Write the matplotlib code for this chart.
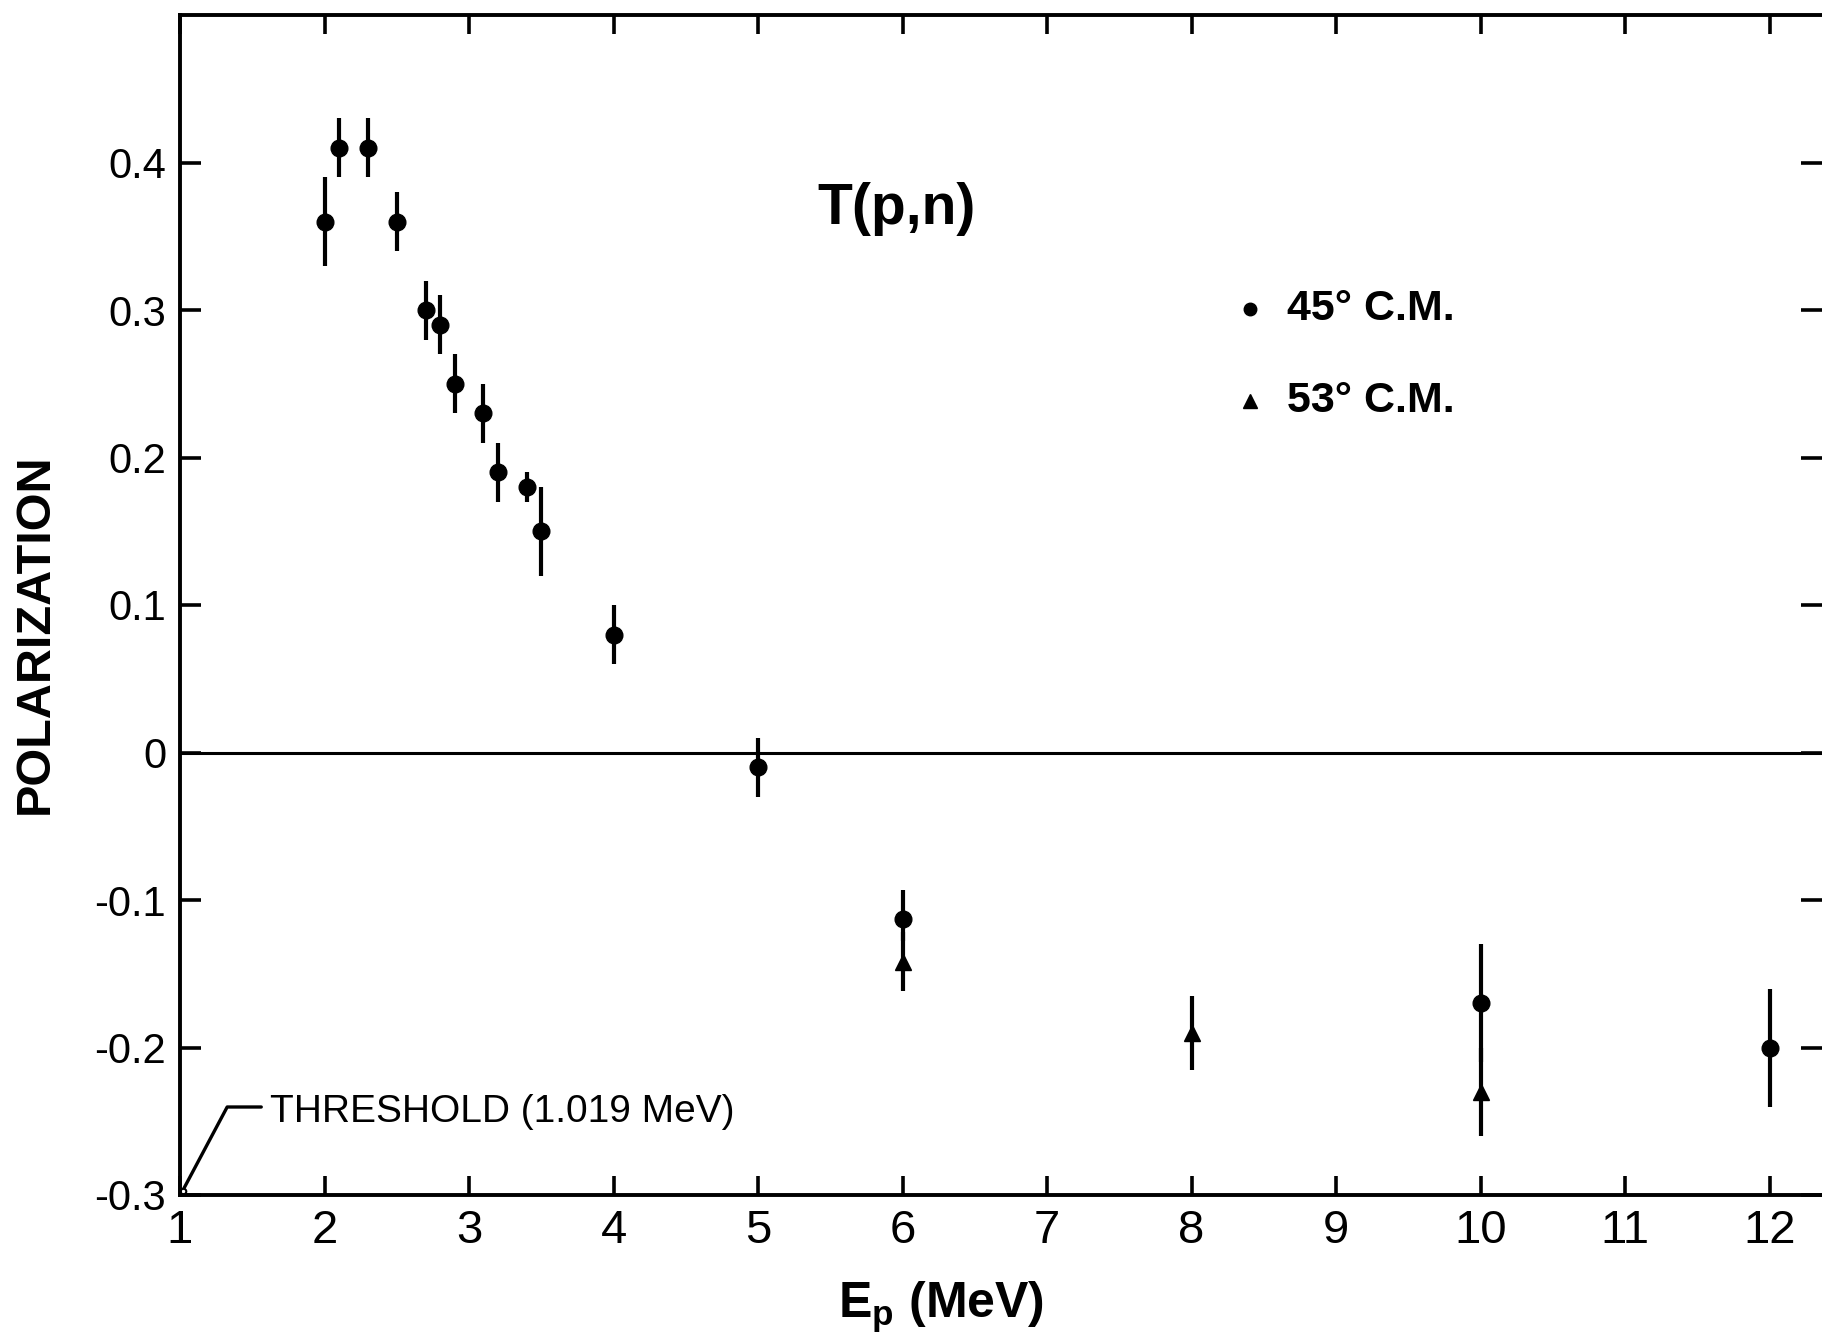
import matplotlib
matplotlib.use("Agg")
import matplotlib.pyplot as plt
from matplotlib import font_manager

# ---------------- data ----------------
ep_45 = [2.0, 2.1, 2.3, 2.5, 2.7, 2.8, 2.9, 3.1, 3.2, 3.4, 3.5, 4.0, 5.0, 6.0, 10.0, 12.0]
pol_45 = [0.36, 0.41, 0.41, 0.36, 0.30, 0.29, 0.25, 0.23, 0.19, 0.18, 0.15, 0.08, -0.01, -0.113, -0.17, -0.20]
err_45_lo = [0.03, 0.02, 0.02, 0.02, 0.02, 0.02, 0.02, 0.02, 0.02, 0.01, 0.03, 0.02, 0.02, 0.015, 0.04, 0.04]
err_45_hi = [0.03, 0.02, 0.02, 0.02, 0.02, 0.02, 0.02, 0.02, 0.02, 0.01, 0.03, 0.02, 0.02, 0.02, 0.04, 0.04]

ep_53 = [6.0, 8.0, 10.0]
pol_53 = [-0.142, -0.19, -0.23]
err_53_lo = [0.02, 0.025, 0.03]
err_53_hi = [0.02, 0.025, 0.03]

threshold_ep = 1.019
xticks = list(range(1, 13))
xticklabels = ["1", "2", "3", "4", "5", "6", "7", "8", "9", "10", "11", "12"]
yticks = [-0.3, -0.2, -0.1, 0.0, 0.1, 0.2, 0.3, 0.4]
yticklabels = ["-0.3", "-0.2", "-0.1", "0", "0.1", "0.2", "0.3", "0.4"]

# ---------------- fonts ----------------
names = {f.name for f in font_manager.fontManager.ttflist}
narrow = "Liberation Sans Narrow" if "Liberation Sans Narrow" in names else "Liberation Sans"
plt.rcParams["font.family"] = ["Liberation Sans", "DejaVu Sans"]
plt.rcParams["mathtext.fontset"] = "custom"
plt.rcParams["mathtext.rm"] = "Liberation Sans"
plt.rcParams["mathtext.bf"] = "Liberation Sans:bold"

W, H = 1822, 1340
fig = plt.figure(figsize=(W / 100, H / 100), dpi=100)
left_px, right_px, top_px, bot_px = 180, 1822, 15, 1195
ax = fig.add_axes([left_px / W, 1 - bot_px / H, (right_px - left_px) / W, (bot_px - top_px) / H])

ax.set_xlim(1, 1 + (right_px - left_px) / 144.5)
ax.set_ylim(-0.3, 0.5)

for s in ["left", "bottom", "top"]:
    ax.spines[s].set_linewidth(2.8)
ax.spines["right"].set_visible(False)

ax.axhline(0, color="black", lw=2.2, zorder=1)

ax.errorbar(ep_45, pol_45, yerr=[err_45_lo, err_45_hi], fmt="o", color="black",
            ms=12, elinewidth=3.0, capsize=0, zorder=3)
ax.errorbar(ep_53, pol_53, yerr=[err_53_lo, err_53_hi], fmt="^", color="black",
            ms=12, elinewidth=3.0, capsize=0, zorder=3)

ax.set_xticks(xticks)
ax.set_xticklabels(xticklabels, fontsize=34, family=narrow)
ax.set_yticks(yticks)
ax.set_yticklabels(yticklabels, fontsize=30)
ax.tick_params(axis="x", which="both", direction="in", length=14, width=2.6,
               top=True, bottom=True, pad=10)
ax.tick_params(axis="y", which="both", direction="in", length=15, width=2.6,
               left=True, right=True, pad=10)

# title / legend
ax.text(0.4367, 0.8355, "T(p,n)", transform=ax.transAxes, fontsize=41,
        fontweight="bold", ha="center", va="center")
ax.plot([0.6516], [0.7508], "o", color="black", ms=9, transform=ax.transAxes)
ax.plot([0.6516], [0.6728], "^", color="black", ms=10, transform=ax.transAxes)
ax.text(0.674, 0.7508, "45° C.M.", transform=ax.transAxes, fontsize=31,
        fontweight="bold", ha="left", va="center")
ax.text(0.674, 0.6728, "53° C.M.", transform=ax.transAxes, fontsize=31,
        fontweight="bold", ha="left", va="center")

# threshold annotation
ax.annotate("THRESHOLD (1.019 MeV)", xy=(threshold_ep, -0.297), xytext=(1.62, -0.244),
            fontsize=28, family=narrow, ha="left", va="center",
            arrowprops=dict(arrowstyle="-", lw=2.4, color="black",
                            connectionstyle="angle,angleA=0,angleB=62,rad=0",
                            relpos=(0, 0.65), shrinkA=4, shrinkB=2))
ax.plot([threshold_ep], [-0.297], "o", mfc="white", mec="black", ms=4, mew=1.5, clip_on=False)

# axis labels
fig.text(35 / W, 1 - 634 / H, "POLARIZATION", rotation=90, fontsize=35,
         fontweight="bold", ha="center", va="center")
fig.text(941 / W, 1 - 1307 / H, r"E$_{\mathbf{p}}$ (MeV)", fontsize=36,
         fontweight="bold", ha="center", va="center")

fig.savefig("out.png", dpi=100)
